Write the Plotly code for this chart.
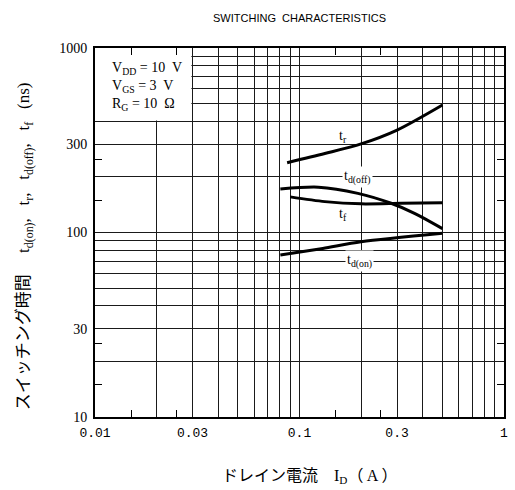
import plotly.graph_objects as go

# ---- data (I_D in A, times in ns) ----
id_tr = [0.087, 0.133, 0.2, 0.3, 0.5]
t_r = [239, 268, 302, 359, 491]

id_tdoff = [0.0806, 0.1236, 0.193, 0.2805, 0.365, 0.5]
t_doff = [172, 176, 163, 144, 127, 105]

id_tf = [0.09, 0.133, 0.2, 0.314, 0.5]
t_f = [156, 147, 143, 144, 145]

id_tdon = [0.0806, 0.13, 0.2, 0.5]
t_don = [75.5, 82, 89, 99]

# ---- ticks ----
x_label_vals = [0.01, 0.03, 0.1, 0.3, 1]
x_labels = ["0.01", "0.03", "0.1", "0.3", "1"]
y_label_vals = [10, 30, 100, 300, 1000]
y_labels = ["10", "30", "100", "300", "1000"]
x_grid = [round(m * 10 ** e, 4) for e in (-2, -1) for m in range(1, 10)] + [1]
y_grid = [m * 10 ** e for e in (1, 2) for m in range(1, 10)] + [1000]
x_small = [0.015, 0.025, 0.15, 0.25]
y_small = [15, 25, 150, 250]

conditions = ["V<sub>DD</sub> = 10  V", "V<sub>GS</sub> = 3  V", "R<sub>G</sub> = 10  Ω"]

NB = "\u00a0"
SERIF = "Liberation Serif, Noto Sans CJK JP, serif"
LINE = dict(color="black", width=3)
GRID = "#1a1a1a"

fig = go.Figure()
curves = [(id_tr, t_r), (id_tdoff, t_doff), (id_tf, t_f), (id_tdon, t_don)]
for i, (xs, ys) in enumerate(curves):
    # first curve is placed on the overlay axes (same ranges) so those axes are drawn
    axes = dict(xaxis="x2", yaxis="y2") if i == 0 else {}
    fig.add_trace(go.Scatter(x=xs, y=ys, mode="lines", line=dict(shape="spline", smoothing=0.8, **LINE),
                             showlegend=False, hoverinfo="skip", **axes))

axis_common = dict(
    type="log",
    showgrid=True,
    gridcolor=GRID,
    gridwidth=1.2,
    ticks="",
    showline=True,
    linecolor="black",
    linewidth=2,
    mirror=True,
    zeroline=False,
    tickangle=0,
)
small_common = dict(
    type="log", tickmode="array", ticks="inside", ticklen=7, tickwidth=1.3, tickcolor="black",
    mirror="ticks", showticklabels=False, showgrid=False, showline=False, zeroline=False,
)

fig.update_layout(
    xaxis=dict(
        range=[-2, 0],
        tickmode="array",
        tickvals=x_grid,
        ticktext=[next((l for v, l in zip(x_label_vals, x_labels) if abs(g - v) < 1e-9), " ")
                  for g in x_grid],
        tickfont=dict(family="Liberation Mono, monospace", size=13, color="black"),
        ticklabelstandoff=2,
        **axis_common,
    ),
    yaxis=dict(
        range=[1, 3],
        tickmode="array",
        tickvals=y_grid,
        ticktext=[next((l for v, l in zip(y_label_vals, y_labels) if abs(g - v) < 1e-9), " ")
                  for g in y_grid],
        tickfont=dict(family=SERIF, size=14, color="black"),
        ticklabelstandoff=3,
        **axis_common,
    ),
    xaxis2=dict(range=[-2, 0], tickvals=x_small, overlaying="x", anchor="y2", side="bottom",
                **small_common),
    yaxis2=dict(range=[1, 3], tickvals=y_small, overlaying="y", anchor="x2", side="left",
                **small_common),
)

# white panel behind the test conditions
fig.add_shape(type="rect", xref="x", yref="y", x0=0.01, x1=0.0296, y0=404, y1=1000,
              fillcolor="white", line=dict(width=0), layer="between")

annots = [
    dict(text="<br>".join(conditions), xref="paper", yref="paper", x=0.036, y=0.972,
         xanchor="left", yanchor="top", align="left", showarrow=False,
         font=dict(family=SERIF, size=14, color="black")),
    dict(text="t<sub>r</sub>", x=-0.786, y=2.523, xref="x", yref="y", showarrow=False,
         font=dict(family=SERIF, size=14, color="black")),
    dict(text="t<sub>d(off)</sub>", x=-0.714, y=2.301, xref="x", yref="y", showarrow=False,
         bgcolor="white", borderpad=1, font=dict(family=SERIF, size=14, color="black")),
    dict(text="t<sub>f</sub>", x=-0.786, y=2.095, xref="x", yref="y", showarrow=False,
         font=dict(family=SERIF, size=14, color="black")),
    dict(text="t<sub>d(on)</sub>", x=-0.706, y=1.845, xref="x", yref="y", showarrow=False,
         bgcolor="white", borderpad=1, font=dict(family=SERIF, size=14, color="black")),
    dict(text="ドレイン電流" + NB * 4 + "I<sub>D</sub>" + "（\u2009A\u2009）", xref="paper",
         yref="paper", x=0.524, y=-0.162, xanchor="center", yanchor="middle", showarrow=False,
         font=dict(family=SERIF, size=16, color="black")),
    dict(text="スイッチング時間" + NB * 5 + "t<sub>d(on)</sub>," + NB * 3 + "t<sub>r</sub>,"
         + NB * 3 + "t<sub>d(off)</sub>," + NB * 3 + "t<sub>f</sub>" + NB * 3 + "(ns)",
         xref="paper", yref="paper", x=-0.172, y=0.462, textangle=-90,
         xanchor="center", yanchor="middle", showarrow=False,
         font=dict(family=SERIF, size=17, color="black")),
]
fig.update_layout(
    width=515,
    height=490,
    margin=dict(l=95, r=7, t=48, b=73),
    paper_bgcolor="white",
    plot_bgcolor="white",
    title=dict(text="SWITCHING  CHARACTERISTICS", x=0.5, xref="paper", xanchor="center",
               y=1 - 18 / 490, yref="container", yanchor="middle",
               font=dict(family="Liberation Sans, sans-serif", size=11, color="black")),
    annotations=annots,
)

fig.write_html("out.html", config={"displayModeBar": False},
               post_script="document.body.style.margin='0';")
